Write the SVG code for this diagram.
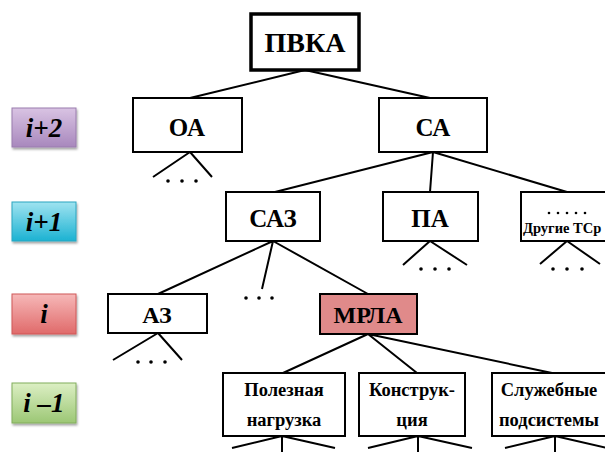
<svg xmlns="http://www.w3.org/2000/svg" width="605" height="457" viewBox="0 0 605 457">
<defs>
<linearGradient id="gPurple" x1="0" y1="0" x2="0" y2="1"><stop offset="0" stop-color="#d9c3e3"/><stop offset="1" stop-color="#a888bd"/></linearGradient>
<linearGradient id="gCyan" x1="0" y1="0" x2="0" y2="1"><stop offset="0" stop-color="#9fe3f0"/><stop offset="1" stop-color="#1cb2d2"/></linearGradient>
<linearGradient id="gRed" x1="0" y1="0" x2="0" y2="1"><stop offset="0" stop-color="#f6b8b8"/><stop offset="1" stop-color="#e06a6a"/></linearGradient>
<linearGradient id="gGreen" x1="0" y1="0" x2="0" y2="1"><stop offset="0" stop-color="#dcefc4"/><stop offset="1" stop-color="#9cc775"/></linearGradient>
<filter id="sh" x="-10%" y="-10%" width="130%" height="140%"><feDropShadow dx="1" dy="2" stdDeviation="1.2" flood-color="#000" flood-opacity="0.35"/></filter>
</defs>
<style>
.box{fill:#fff;stroke:#000;stroke-width:2}
.t{font-weight:bold;fill:#000;text-anchor:middle}
.lv{font-weight:bold;font-style:italic;font-size:27px;fill:#000;text-anchor:middle}
.ln{stroke:#000;stroke-width:2;fill:none}
.dot{fill:#000}
</style>
<rect width="605" height="457" fill="#fff"/>

<g id="levels" font-family="Liberation Serif, Times New Roman, serif">
<g id="lvl-i2"><rect x="12" y="108" width="64" height="39" fill="url(#gPurple)" stroke="#9a7cae" stroke-width="1" filter="url(#sh)"/><text class="lv" x="44" y="137">i+2</text></g>
<g id="lvl-i1"><rect x="12" y="202" width="64" height="39" fill="url(#gCyan)" stroke="#2aa6c0" stroke-width="1" filter="url(#sh)"/><text class="lv" x="44" y="231">i+1</text></g>
<g id="lvl-i"><rect x="12" y="294" width="64" height="40" fill="url(#gRed)" stroke="#d05858" stroke-width="1" filter="url(#sh)"/><text class="lv" x="44" y="323">i</text></g>
<g id="lvl-im1"><rect x="12" y="383" width="64" height="40" fill="url(#gGreen)" stroke="#82ad5c" stroke-width="1" filter="url(#sh)"/><text class="lv" x="44" y="412">i –1</text></g>
</g>

<g id="connectors">
<path class="ln" d="M305 70 L190 98 M305 70 L430 98"/>
<path class="ln" d="M190 152 L153 177 M190 152 L212 177"/>
<path class="ln" d="M433 152 L275 192 M433 152 L430 192 M433 152 L567 192"/>
<path class="ln" d="M430 241 L403 265 M430 241 L467 265"/>
<path class="ln" d="M567 241 L540 264 M567 241 L600 264"/>
<path class="ln" d="M273 241 L158 294 M273 241 L262 289 M273 241 L368 294"/>
<path class="ln" d="M158 333 L113 360 M158 333 L182 360"/>
<path class="ln" d="M368 334 L283 373 M368 334 L417 373 M368 334 L552 373"/>
<path class="ln" d="M282 436 L232 448 M282 436 L282 452 M282 436 L335 448"/>
<path class="ln" d="M418 436 L368 448 M418 436 L418 452 M418 436 L472 448"/>
<path class="ln" d="M555 436 L505 448 M555 436 L555 452 M555 436 L607 448"/>
<g class="dot">
<circle cx="168" cy="181" r="1.8"/><circle cx="182" cy="181" r="1.8"/><circle cx="196" cy="181" r="1.8"/>
<circle cx="421" cy="269" r="1.8"/><circle cx="435" cy="269" r="1.8"/><circle cx="449" cy="269" r="1.8"/>
<circle cx="553" cy="269" r="1.8"/><circle cx="567" cy="269" r="1.8"/><circle cx="582" cy="269" r="1.8"/>
<circle cx="246" cy="298" r="1.8"/><circle cx="259" cy="298" r="1.8"/><circle cx="272" cy="298" r="1.8"/>
<circle cx="138" cy="362" r="1.8"/><circle cx="151" cy="362" r="1.8"/><circle cx="165" cy="362" r="1.8"/>
</g>
</g>

<g id="nodes" font-family="Liberation Serif, Times New Roman, serif">
<g id="n-pvka"><rect x="251" y="14" width="108" height="56" fill="#fff" stroke="#000" stroke-width="3.5"/><text class="t" x="305" y="52" font-size="28">ПВКА</text></g>
<g id="n-oa"><rect class="box" x="133" y="98" width="109" height="54"/><text class="t" x="187" y="136" font-size="25">ОА</text></g>
<g id="n-ca"><rect class="box" x="379" y="98" width="108" height="54"/><text class="t" x="433" y="136" font-size="25">СА</text></g>
<g id="n-saz"><rect class="box" x="226" y="192" width="94" height="49"/><text class="t" x="273" y="227" font-size="25">САЗ</text></g>
<g id="n-pa"><rect class="box" x="383" y="192" width="95" height="49"/><text class="t" x="430" y="227" font-size="25">ПА</text></g>
<g id="n-other"><rect class="box" x="521" y="192" width="100" height="49"/>
<g class="dot"><circle cx="549" cy="213" r="1.3"/><circle cx="558" cy="213" r="1.3"/><circle cx="567" cy="213" r="1.3"/><circle cx="576" cy="213" r="1.3"/><circle cx="585" cy="213" r="1.3"/></g>
<text class="t" x="523" y="233" font-size="14.5" text-anchor="start" style="text-anchor:start">Другие ТСр</text></g>
<g id="n-az"><rect class="box" x="108" y="294" width="99" height="39"/><text class="t" x="157" y="323" font-size="24">АЗ</text></g>
<g id="n-mrla"><rect x="320" y="294" width="97" height="40" fill="#e08a8a" stroke="#000" stroke-width="2"/><text class="t" x="368" y="323" font-size="24">МРЛА</text></g>
<g id="n-payload"><rect class="box" x="223" y="373" width="122" height="63"/><text class="t" x="284" y="396" font-size="18.5">Полезная</text><text class="t" x="284" y="426" font-size="18.5">нагрузка</text></g>
<g id="n-struct"><rect class="box" x="359" y="373" width="106" height="63"/><text class="t" x="412" y="396" font-size="18.5">Конструк-</text><text class="t" x="412" y="426" font-size="18.5">ция</text></g>
<g id="n-service"><rect class="box" x="492" y="373" width="120" height="63"/><text class="t" x="549" y="396" font-size="18.5">Служебные</text><text class="t" x="549" y="426" font-size="18.5">подсистемы</text></g>
</g>
</svg>
